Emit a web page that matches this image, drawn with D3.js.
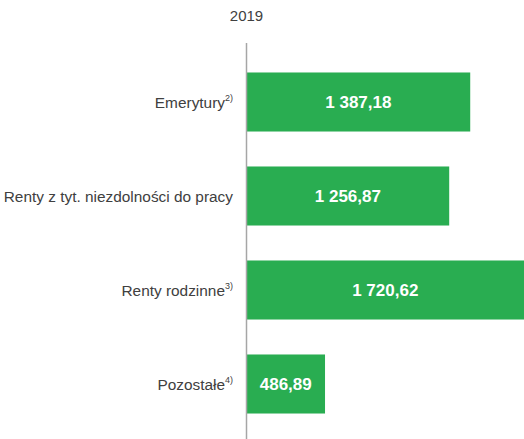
<!DOCTYPE html>
<html>
<head>
<meta charset="utf-8">
<script src="https://cdn.jsdelivr.net/npm/d3@7"></script>
<style>
  body { margin: 0; background: #fff; }
  svg { display: block; font-family: "Liberation Sans", Arial, sans-serif; }
</style>
</head>
<body>
<svg id="chart" width="524" height="439"></svg>
<script>
// dane
const categories = ["Emerytury", "Renty z tyt. niezdolności do pracy", "Renty rodzinne", "Pozostałe"];
const notes = ["2)", "", "3)", "4)"];
const values = [1387.18, 1256.87, 1720.62, 486.89];
const valueLabels = ["1 387,18", "1 256,87", "1 720,62", "486,89"];
const title = "2019";

const width = 524, height = 439;
const x0 = 246.5;

const svg = d3.select("#chart");

const x = d3.scaleLinear()
  .domain([0, 1720.62])
  .range([x0, 524]);

const y = d3.scaleBand()
  .domain(categories)
  .range([55, 431])
  .paddingInner(0.372)
  .paddingOuter(0.186);

// tytuł
svg.append("text")
  .attr("x", x0)
  .attr("y", 21)
  .attr("text-anchor", "middle")
  .attr("font-size", "15px")
  .attr("fill", "#404040")
  .text(title);

// słupki
svg.selectAll(".bar")
  .data(values)
  .enter()
  .append("rect")
  .attr("class", "bar")
  .attr("x", x0)
  .attr("y", (d, i) => y(categories[i]))
  .attr("width", d => x(d) - x0)
  .attr("height", y.bandwidth())
  .attr("fill", "#29ad51");

// wartości
svg.selectAll(".val")
  .data(values)
  .enter()
  .append("text")
  .attr("class", "val")
  .attr("x", d => (x0 + x(d)) / 2)
  .attr("y", (d, i) => y(categories[i]) + y.bandwidth() / 2)
  .attr("dy", "0.36em")
  .attr("text-anchor", "middle")
  .attr("font-size", "17px")
  .attr("font-weight", "bold")
  .attr("fill", "#fff")
  .text((d, i) => valueLabels[i]);

// oś Y
const yAxis = svg.append("g")
  .attr("transform", `translate(${x0},0)`)
  .call(d3.axisLeft(y).tickSize(0).tickPadding(0).tickFormat(() => ""));
yAxis.select(".domain").remove();

svg.append("line")
  .attr("x1", x0).attr("x2", x0)
  .attr("y1", 43).attr("y2", height)
  .attr("stroke", "#a6a6a6")
  .attr("stroke-width", 1.5);

// etykiety kategorii
const labels = svg.selectAll(".cat")
  .data(categories)
  .enter()
  .append("text")
  .attr("class", "cat")
  .attr("x", 233)
  .attr("y", d => y(d) + y.bandwidth() / 2)
  .attr("dy", "0.36em")
  .attr("text-anchor", "end")
  .attr("font-size", "15.4px")
  .attr("fill", "#404040");

labels.append("tspan").text(d => d);
labels.append("tspan")
  .attr("font-size", "9px")
  .attr("dy", "-0.7em")
  .text((d, i) => notes[i]);
</script>
</body>
</html>
